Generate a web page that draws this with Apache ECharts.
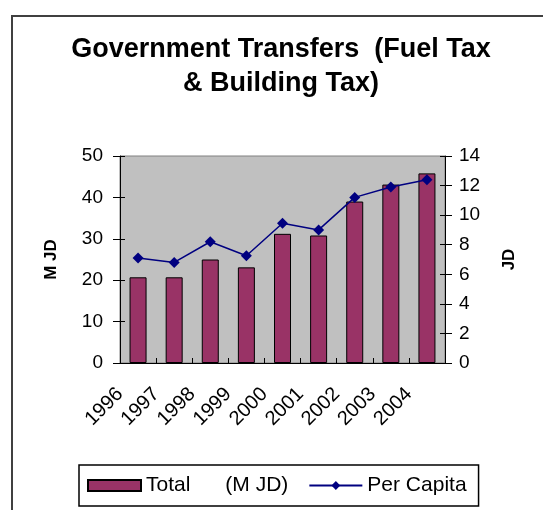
<!DOCTYPE html>
<html>
<head>
<meta charset="utf-8">
<script src="https://cdn.jsdelivr.net/npm/echarts@6/dist/echarts.min.js"></script>
<style>
  html, body { margin: 0; padding: 0; background: #fff; }
  #main { width: 543px; height: 510px; }
</style>
</head>
<body>
<div id="main"></div>
<script>
// values
var years = ['1996', '1997', '1998', '1999', '2000', '2001', '2002', '2003', '2004'];
var totalMJD = [20.7, 20.7, 25.0, 23.1, 31.2, 30.8, 39.0, 43.1, 45.8];
var perCapita = [7.1, 6.8, 8.2, 7.25, 9.45, 9.0, 11.2, 11.9, 12.4];
var totalName = 'Total      (M JD)';
var lineName = 'Per Capita';

var font = '"Liberation Sans", Arial, sans-serif';
var myChart = echarts.init(document.getElementById('main'));

// y axis helper: outer one draws line + labels, inner one only the inside ticks
function yAx(pos, max, step, name, gap, inner) {
  return {
    type: 'value', position: pos, min: 0, max: max, interval: step,
    name: inner ? '' : name, nameLocation: 'middle', nameRotate: 90, nameGap: gap,
    nameTextStyle: { fontFamily: font, fontSize: 17, fontWeight: 'bold', color: '#000' },
    splitLine: { show: false },
    axisLine: { show: !inner, lineStyle: { color: '#000', width: 1 } },
    axisTick: { show: true, inside: !!inner, length: inner ? 5 : 7, lineStyle: { color: '#000' } },
    axisLabel: { show: !inner, margin: pos == 'left' ? 17 : 14, fontFamily: font, fontSize: 19, color: '#000' }
  };
}

myChart.setOption({
  animation: false,
  graphic: [
    { type: 'rect', z: -10, silent: true,
      shape: { x: 12, y: 16, width: 620, height: 600 },
      style: { fill: 'none', stroke: '#404040', lineWidth: 2 } },
    { type: 'text', x: 281, y: 33,
      style: { text: 'Government Transfers  (Fuel Tax\n& Building Tax)',
        fontFamily: font, fontSize: 27, fontWeight: 'bold', lineHeight: 34,
        fill: '#000', align: 'center', verticalAlign: 'top' } }
  ],
  grid: {
    left: 120, right: 98, top: 156, bottom: 147,
    show: true, backgroundColor: '#c0c0c0', borderColor: '#808080', borderWidth: 1
  },
  legend: {
    left: 79, top: 465, orient: 'horizontal',
    padding: [10, 12, 10, 8],
    borderColor: '#000', borderWidth: 1.5,
    itemWidth: 53, itemHeight: 11, itemGap: 20,
    textStyle: { fontFamily: font, fontSize: 21, color: '#000' },
    data: [{ name: totalName, icon: 'rect' }, { name: lineName }]
  },
  xAxis: [
    {
      type: 'category', data: years, boundaryGap: true,
      axisLine: { lineStyle: { color: '#000', width: 1 } },
      axisTick: { length: 7, lineStyle: { color: '#000' } },
      axisLabel: { show: false }
    },
    {
      // same slots, ticks on the boundaries: inside ticks + shifted year labels
      type: 'category', data: years.concat(['']), boundaryGap: false, position: 'bottom',
      axisLine: { show: false },
      axisTick: { inside: true, length: 5, lineStyle: { color: '#000' } },
      axisLabel: { rotate: 45, margin: 28, interval: 0, fontFamily: font, fontSize: 20, color: '#000' }
    }
  ],
  yAxis: [
    yAx('left', 50, 10, 'M JD', 60, false),
    yAx('right', 14, 2, 'JD', 56, false),
    yAx('left', 50, 10, '', 0, true),
    yAx('right', 14, 2, '', 0, true)
  ],
  series: [
    {
      name: totalName, type: 'bar', xAxisIndex: 0, yAxisIndex: 0,
      data: totalMJD, barWidth: 17,
      itemStyle: { color: '#993366', borderColor: '#000', borderWidth: 1 }
    },
    {
      name: lineName, type: 'line', xAxisIndex: 0, yAxisIndex: 1,
      data: perCapita,
      symbol: 'diamond', symbolSize: 11,
      lineStyle: { color: '#000080', width: 1.5 },
      itemStyle: { color: '#000080' }
    }
  ]
});
</script>
</body>
</html>
